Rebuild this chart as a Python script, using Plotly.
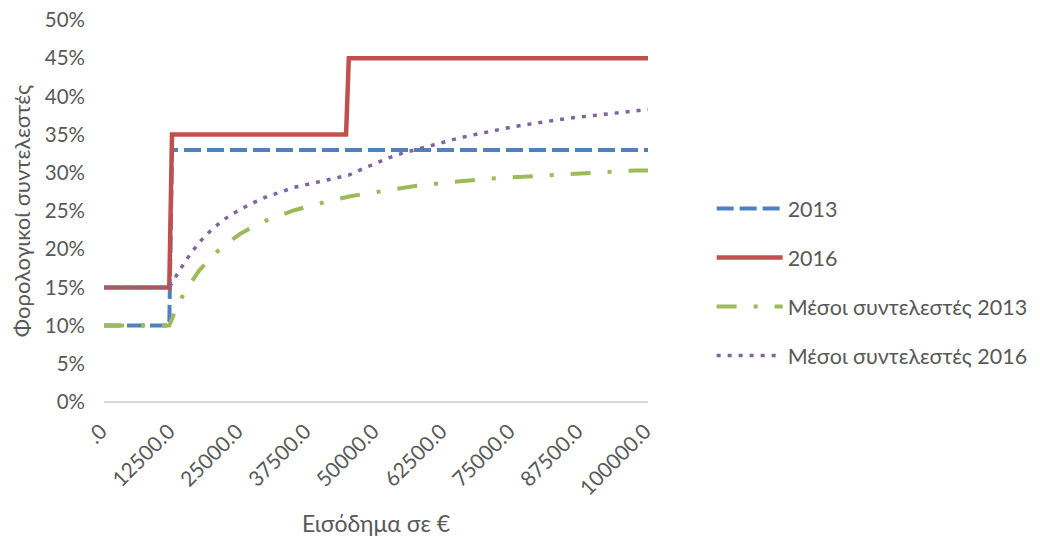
import plotly.graph_objects as go

income = [0, 2500, 5000, 7500, 10000, 12000, 12500, 13500, 15000, 17500, 20000,
          22500, 25000, 27500, 30000, 32500, 35000, 37500, 40000, 42500, 44500,
          45000, 47500, 50000, 52500, 55000, 57500, 60000, 62500, 65000, 67500,
          70000, 72500, 75000, 77500, 80000, 82500, 85000, 87500, 90000, 92500,
          95000, 97500, 100000]

rate_2013 = [10, 10, 10, 10, 10, 10, 33, 33, 33, 33, 33,
             33, 33, 33, 33, 33, 33, 33, 33, 33, 33,
             33, 33, 33, 33, 33, 33, 33, 33, 33, 33,
             33, 33, 33, 33, 33, 33, 33, 33, 33, 33,
             33, 33, 33]

rate_2016 = [15, 15, 15, 15, 15, 15, 35, 35, 35, 35, 35,
             35, 35, 35, 35, 35, 35, 35, 35, 35, 35,
             45, 45, 45, 45, 45, 45, 45, 45, 45, 45,
             45, 45, 45, 45, 45, 45, 45, 45, 45, 45,
             45, 45, 45]

avg_2013 = [10, 10, 10, 10, 10, 10, 10.9, 12.6, 14.6, 17.2, 19.2,
            20.7, 22.0, 23.0, 23.8, 24.5, 25.1, 25.6, 26.1, 26.5, 26.8,
            26.9, 27.2, 27.5, 27.8, 28.0, 28.3, 28.5, 28.7, 28.9, 29.0,
            29.2, 29.3, 29.4, 29.5, 29.7, 29.8, 29.9, 29.9, 30.0, 30.1,
            30.2, 30.3, 30.3]

avg_2016 = [15, 15, 15, 15, 15, 15, 15.6, 16.8, 18.5, 20.9, 22.7,
            24.1, 25.2, 26.1, 26.9, 27.5, 28.1, 28.5, 28.9, 29.3, 29.6,
            29.7, 30.5, 31.3, 32.0, 32.6, 33.1, 33.6, 34.1, 34.5, 34.9,
            35.3, 35.6, 36.0, 36.3, 36.6, 36.8, 37.1, 37.3, 37.5, 37.7,
            37.9, 38.1, 38.3]

tick_vals = [0, 12500, 25000, 37500, 50000, 62500, 75000, 87500, 100000]
tick_text = [".0", "12500.0", "25000.0", "37500.0", "50000.0", "62500.0",
             "75000.0", "87500.0", "100000.0"]
y_ticks = [0, 5, 10, 15, 20, 25, 30, 35, 40, 45, 50]
y_text = ["0%", "5%", "10%", "15%", "20%", "25%", "30%", "35%", "40%", "45%", "50%"]

FONT = "Lato, 'Noto Sans', sans-serif"
GREY = "#595959"

fig = go.Figure()
fig.add_trace(go.Scatter(x=income, y=rate_2013, mode="lines", name="2013", legendgroup="a",
                         line=dict(color="#4F81BD", width=4, dash="17px,6px")))
fig.add_trace(go.Scatter(x=income, y=rate_2016, mode="lines", name="2016", legendgroup="b",
                         line=dict(color="#C0504D", width=4.5)))
fig.add_trace(go.Scatter(x=income, y=avg_2013, mode="lines", name="Μέσοι συντελεστές 2013",
                         legendgroup="c",
                         line=dict(color="#9BBB59", width=4, dash="20px,17px,4px,17px")))
fig.add_trace(go.Scatter(x=income, y=avg_2016, mode="lines", name="Μέσοι συντελεστές 2016",
                         legendgroup="d",
                         line=dict(color="#8064A2", width=3.5, dash="4px,7px")))

fig.update_layout(
    width=1040, height=541,
    margin=dict(l=96, r=400, t=12, b=147, autoexpand=False),
    paper_bgcolor="white", plot_bgcolor="white",
    font=dict(family=FONT, color=GREY, size=19),
    legend=dict(x=1.117, y=0.56, xanchor="left", yanchor="top",
                font=dict(size=21.5, color=GREY),
                tracegroupgap=18, itemwidth=66, bgcolor="rgba(0,0,0,0)"),
    xaxis=dict(range=[0, 100000], tickvals=tick_vals, ticktext=tick_text,
               tickangle=-45, showgrid=False, zeroline=False, showline=False,
               ticks="", automargin=False, ticklabelstandoff=12, ticklabelshift=-3,
               ticklabeloverflow="allow",
               tickfont=dict(size=21, color=GREY),
               title=dict(text="Εισόδημα σε €", font=dict(size=23, color=GREY), standoff=17)),
    yaxis=dict(range=[0, 50], tickvals=y_ticks, ticktext=y_text,
               showgrid=False, zeroline=True, zerolinecolor="#D9D9D9", zerolinewidth=1.5,
               showline=False, ticks="", automargin=False, ticklabelstandoff=18,
               ticklabeloverflow="allow",
               tickfont=dict(size=20.5, color=GREY),
               title=dict(text="Φορολογικοί συντελεστές", font=dict(size=22, color=GREY), standoff=12)),
)

fig.write_html("out.html")
